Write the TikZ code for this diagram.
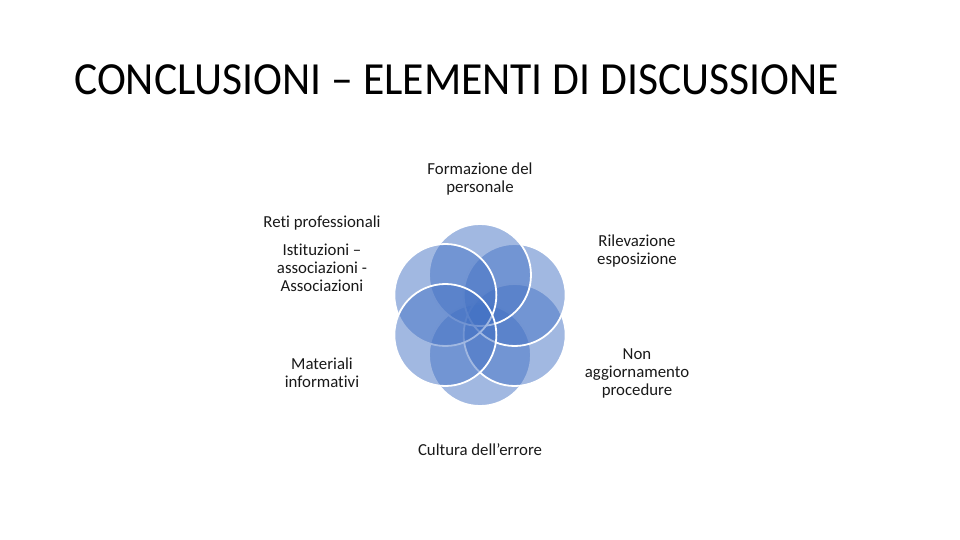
\documentclass[tikz,border=0pt]{standalone}
\usepackage{fontspec}
\setmainfont{Carlito}[Ligatures=NoCommon]
\usetikzlibrary{calc}
\begin{document}
\begin{tikzpicture}[x=1pt,y=-1pt,
  ring/.style={fill={rgb,255:red,68;green,114;blue,196},fill opacity=0.5,draw=white,line width=1.8pt,draw opacity=1},
  lbl/.style={font=\fontsize{16.8}{18}\selectfont,align=center,text=black!90,inner sep=0pt}]
\useasboundingbox (0,0) rectangle (960,540);
\node[font=\fontsize{46}{50}\selectfont,anchor=west,inner sep=0pt] (title) at (74,80) {\scalebox{0.948}[1]{CONCLUSIONI – ELEMENTI DI DISCUSSIONE}};
\coordinate (c) at (480,315);
\foreach \a/\n in {90/r1,30/r2,-30/r3,-90/r4,210/r5,150/r6}{
  \path[ring] ($(c)+(\a:40)$) circle[radius=51];
}
\node[lbl] (l1) at (480,179) {Formazione del\\personale};
\node[lbl] (l2) at (637,251) {Rilevazione\\esposizione};
\node[lbl] (l3) at (637,373) {Non\\aggiornamento\\procedure};
\node[lbl] (l4) at (480,450) {Cultura dell'errore};
\node[lbl] (l5) at (322,373) {Materiali\\informativi};
\node[lbl] (l6a) at (322,223) {Reti professionali};
\node[lbl] (l6b) at (322,268) {Istituzioni –\\associazioni -\\Associazioni};
\end{tikzpicture}
\end{document}
